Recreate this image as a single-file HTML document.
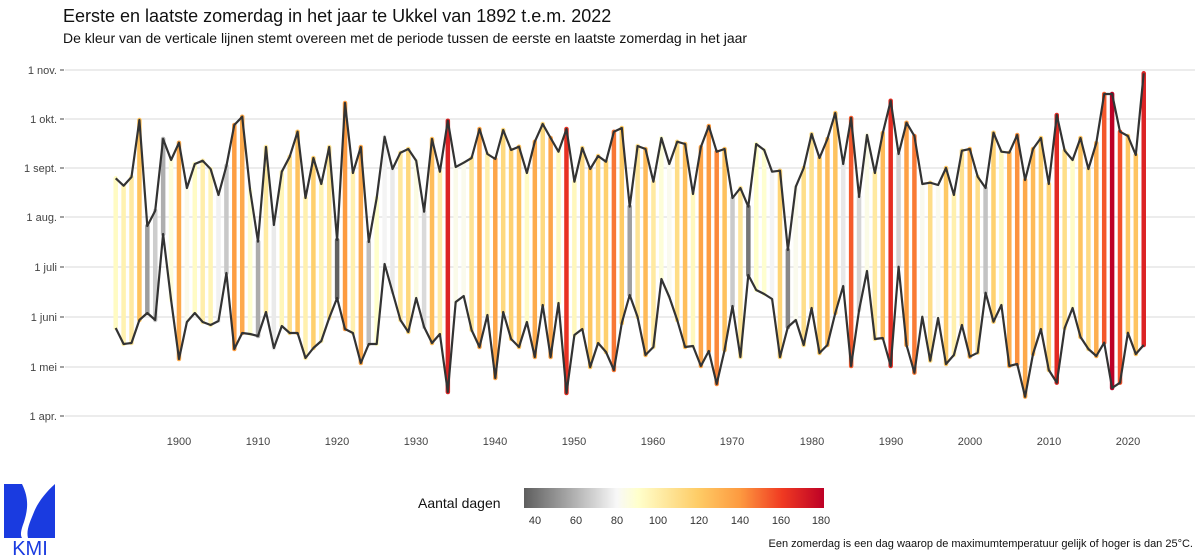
<!DOCTYPE html>
<html><head><meta charset="utf-8"><style>
body{margin:0;background:#fff;font-family:"Liberation Sans",sans-serif;}
svg{display:block}
</style></head><body>
<svg id="s" width="1200" height="557" xmlns="http://www.w3.org/2000/svg" font-family="Liberation Sans, sans-serif">
<defs>
<linearGradient id="lg" x1="0" x2="1" y1="0" y2="0">
<stop offset="0" stop-color="#5e5e5e"/>
<stop offset="0.17" stop-color="#b2b2b2"/>
<stop offset="0.31" stop-color="#f8f8f8"/>
<stop offset="0.38" stop-color="#ffffcc"/>
<stop offset="0.58" stop-color="#fecc66"/>
<stop offset="0.72" stop-color="#fd9a40"/>
<stop offset="0.86" stop-color="#f03a22"/>
<stop offset="1" stop-color="#bd0026"/>
</linearGradient>
</defs>
<text x="63" y="22" font-size="18" fill="#111">Eerste en laatste zomerdag in het jaar te Ukkel van 1892 t.e.m. 2022</text>
<text x="63" y="43" font-size="14" fill="#111">De kleur van de verticale lijnen stemt overeen met de periode tussen de eerste en laatste zomerdag in het jaar</text>
<g id="grid"></g>
<g id="bars"></g>
<g id="lines"></g>
<g font-size="11" fill="#444" text-anchor="middle">
<text x="179" y="445">1900</text><text x="258" y="445">1910</text><text x="337" y="445">1920</text><text x="416" y="445">1930</text><text x="495" y="445">1940</text><text x="574" y="445">1950</text><text x="653" y="445">1960</text><text x="732" y="445">1970</text><text x="812" y="445">1980</text><text x="891" y="445">1990</text><text x="970" y="445">2000</text><text x="1049" y="445">2010</text><text x="1128" y="445">2020</text>
</g>
<text x="418" y="508" font-size="14" fill="#111">Aantal dagen</text>
<rect x="524" y="488" width="300" height="20" fill="url(#lg)"/>
<g font-size="11" fill="#333" text-anchor="middle">
<text x="535" y="524">40</text><text x="576" y="524">60</text><text x="617" y="524">80</text><text x="658" y="524">100</text><text x="699" y="524">120</text><text x="740" y="524">140</text><text x="781" y="524">160</text><text x="821" y="524">180</text>
</g>
<text x="1193" y="547" font-size="11" fill="#111" text-anchor="end">Een zomerdag is een dag waarop de maximumtemperatuur gelijk of hoger is dan 25°C.</text>
<g fill="#1a3be0">
<path d="M4 484 L22 484 C30 500 27 512 24 522 C21 530 20 535 22 538 L4 538 Z"/>
<path d="M55 484 L55 538 L28 538 C26 530 30 522 34 512 C38 502 46 492 55 484 Z"/>
<text x="30" y="555" font-size="20" text-anchor="middle">KMI</text>
</g>
</svg>
<script>
var T=[178.3,185.7,177,120,226,210.7,139,160,142.7,188,164,160.7,169,195,166,125,116.7,190,241.7,147,225,171.7,156.7,131.7,198,158,184,147,240,103,173,147,242,198,136.7,169,152.7,149,160.7,211.7,139,171.7,120.7,167,162.7,158,129,154,159,130,150,146.7,173,141.7,124,138,151.7,129,181.7,148,169,156,161.7,131.7,128,206.7,146,149,181.7,138,164,141.7,144,194,147,126,151.7,149,198,188,206.7,144,150,171.7,170.7,250,186.7,168,134,158,139,113,164,118,197,135,173,133,100.7,154,122.7,136,184,182.7,185,168,195,150.7,149,176.7,188,132.7,151.7,152.7,135,180,149,138,184,115,150.7,160,138,169,143,94,94,131.7,136,155,73.3];
var B=[328,344,343,320,313,320,234,300,359,322,313,322,325,321,273,349,333,334,336,312,348,326,333,333,358,348,341,318,298,329,333,363,344,344,264,292,320,332,298,327,343,334,392,302,296,330,347,315,378,312,339,347,322,357,305,357,303,393,335,329,367,343,352,370,323,295,317,355,347,279,297,320,347,346,366,351,384,350,306,357,275,290,294,299,357,327,320,345,308,353,345,313,286,366,310,271,339,338,366,266.7,345,372.7,316.7,360.7,318,364,355,325,356.7,352.7,292.7,321.7,305,366,364,396.7,354,329,370,382.7,328,308,337,349,356,342.7,388,382.7,332.7,354,345];
var stops=[[35,[94,94,94]],[60,[178,178,178]],[80,[248,248,248]],[90,[255,255,204]],[120,[254,204,102]],[140,[253,154,64]],[160,[240,58,34]],[180,[189,0,38]]];
function col(d){if(d<=35)return 'rgb(94,94,94)';if(d>=180)return 'rgb(189,0,38)';for(var i=0;i<stops.length-1;i++){var a=stops[i],b=stops[i+1];if(d<=b[0]){var t=(d-a[0])/(b[0]-a[0]);return 'rgb('+[0,1,2].map(function(k){return Math.round(a[1][k]+(b[1][k]-a[1][k])*t)}).join(',')+')';}}}
var ns='http://www.w3.org/2000/svg';
function el(p,n,a){var e=document.createElementNS(ns,n);for(var k in a)e.setAttribute(k,a[k]);document.getElementById(p).appendChild(e);return e;}
var gy=[[70,'1 nov.'],[119,'1 okt.'],[168,'1 sept.'],[217,'1 aug.'],[267,'1 juli'],[317,'1 juni'],[367,'1 mei'],[416,'1 apr.']];
gy.forEach(function(g){el('grid','line',{x1:65,x2:1195,y1:g[0],y2:g[0],stroke:'#d9d9d9','stroke-width':1});el('grid','line',{x1:60,x2:64,y1:g[0],y2:g[0],stroke:'#444','stroke-width':1});var t=el('grid','text',{x:57,y:g[0]+4,'font-size':11,fill:'#444','text-anchor':'end'});t.textContent=g[1];});
var pt='',pb='';
for(var i=0;i<T.length;i++){var x=115.7+7.908*i;var d=(B[i]-T[i])/1.617;el('bars','line',{x1:x,x2:x,y1:T[i],y2:B[i],stroke:col(d),'stroke-width':4.5,'stroke-linecap':'round'});pt+=(i?'L':'M')+x.toFixed(1)+' '+T[i]+' ';pb+=(i?'L':'M')+x.toFixed(1)+' '+B[i]+' ';}
el('lines','path',{d:pt,fill:'none',stroke:'#333','stroke-width':2.2,'stroke-linejoin':'round'});
el('lines','path',{d:pb,fill:'none',stroke:'#333','stroke-width':2.2,'stroke-linejoin':'round'});
</script>
</body></html>
